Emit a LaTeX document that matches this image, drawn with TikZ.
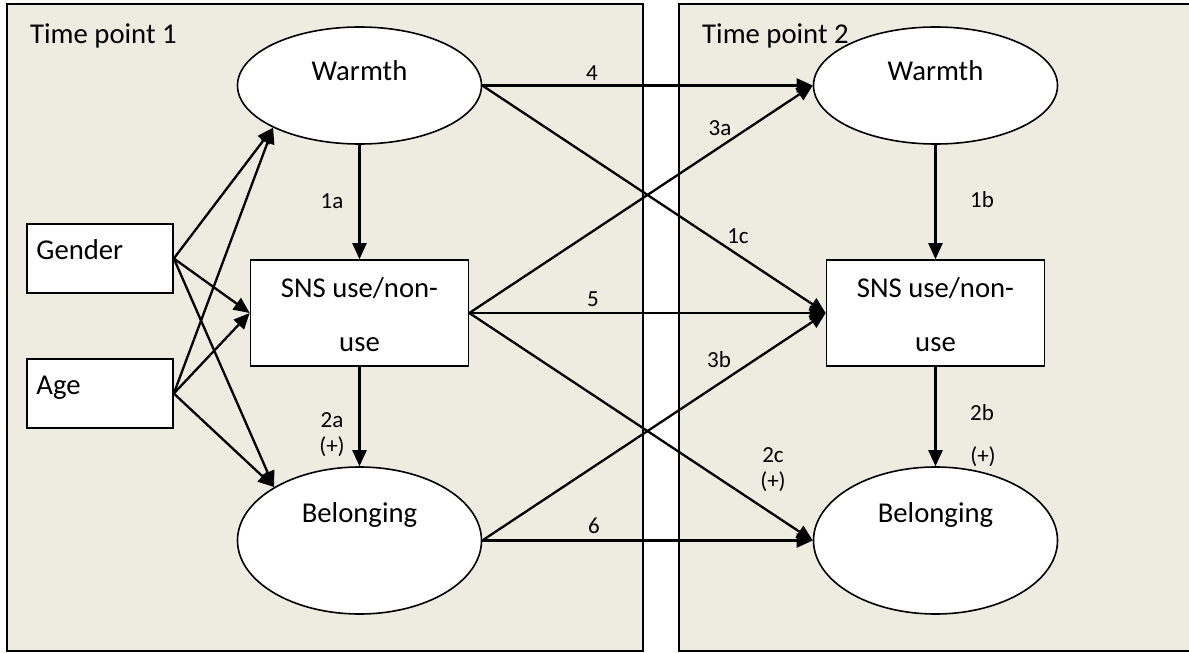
\documentclass[tikz,border=0pt]{standalone}
\usepackage{fontspec}
\setmainfont{Carlito}
\usetikzlibrary{arrows.meta,shapes.geometric}
\definecolor{panelfill}{HTML}{EEECE1}
\begin{document}
\begin{tikzpicture}[x=1pt,y=-1pt,
  panel/.style={draw=black, fill=panelfill, line width=1.6pt},
  latent/.style={ellipse, draw=black, fill=white, line width=1.6pt, inner sep=0pt,
    minimum width=244pt},
  obsbox/.style={rectangle, draw=black, fill=white, line width=1.6pt, inner sep=0pt},
  maintext/.style={font=\fontsize{28.7}{34}\selectfont, inner sep=0pt, anchor=base},
  lbl/.style={font=\fontsize{23}{27}\selectfont, inner sep=0pt, anchor=base},
  causal/.style={line width=2.3pt, -{Triangle[length=16pt,width=14pt]}}
]
\useasboundingbox (0,0) rectangle (1189,653);

% the two measurement occasions
\draw[panel] (7,4) rectangle (643,651);
\draw[panel] (679,4) rectangle (1194,651);
\node[maintext, anchor=base west] (tp1) at (30,43) {Time point 1};
\node[maintext, anchor=base west] (tp2) at (702,43) {Time point 2};

% covariates
\node[obsbox, minimum width=146pt, minimum height=69pt] (gen) at (100,258.5) {};
\node[obsbox, minimum width=146pt, minimum height=69pt] (age) at (100,393.5) {};
\node[maintext, anchor=base west] (gent) at ([xshift=10pt,yshift=-36pt]gen.north west) {Gender};
\node[maintext, anchor=base west] (aget) at ([xshift=10pt,yshift=-36pt]age.north west) {Age};

% time point 1 constructs
\node[latent, minimum height=117pt] (w1) at (359.5,85.5) {};
\node[obsbox, minimum width=218pt, minimum height=106pt] (s1) at (359.5,313) {};
\node[latent, minimum height=147pt] (b1) at (359.5,540.5) {};
\node[maintext] (w1t) at ([yshift=-54pt]w1.north) {Warmth};
\node[maintext] (s1ta) at ([yshift=-38pt]s1.north) {SNS use/non-};
\node[maintext] (s1tb) at ([yshift=-92pt]s1.north) {use};
\node[maintext] (b1t) at ([yshift=-56pt]b1.north) {Belonging};

% time point 2 constructs
\node[latent, minimum height=117pt] (w2) at (935.5,85.5) {};
\node[obsbox, minimum width=218pt, minimum height=106pt] (s2) at (935.5,313) {};
\node[latent, minimum height=147pt] (b2) at (935.5,540.5) {};
\node[maintext] (w2t) at ([yshift=-54pt]w2.north) {Warmth};
\node[maintext] (s2ta) at ([yshift=-38pt]s2.north) {SNS use/non-};
\node[maintext] (s2tb) at ([yshift=-92pt]s2.north) {use};
\node[maintext] (b2t) at ([yshift=-56pt]b2.north) {Belonging};

% covariate paths
\draw[causal] (gen.east) -- (w1.206);
\draw[causal] (gen.east) -- (s1.west);
\draw[causal] (gen.east) -- (b1.148);
\draw[causal] (age.east) -- (w1.206);
\draw[causal] (age.east) -- (s1.west);
\draw[causal] (age.east) -- (b1.148);

% within-time paths
\draw[causal] (w1.south) -- (s1.north);
\draw[causal] (s1.south) -- (b1.north);
\draw[causal] (w2.south) -- (s2.north);
\draw[causal] (s2.south) -- (b2.north);

% cross-lagged paths
\draw[causal] (w1.east) -- (w2.west);
\draw[causal] (w1.east) -- (s2.west);
\draw[causal] (s1.east) -- (w2.west);
\draw[causal] (s1.east) -- (s2.west);
\draw[causal] (s1.east) -- (b2.west);
\draw[causal] (b1.east) -- (s2.west);
\draw[causal] (b1.east) -- (b2.west);

% path labels
\node[lbl] (l1a) at (332,208) {1a};
\node[lbl] (l2a) at (332,427) {2a};
\node[lbl] (l2ap) at (332,453) {(+)};
\node[lbl] (l1b) at (982,207) {1b};
\node[lbl] (l2b) at (982,420) {2b};
\node[lbl] (l2bp) at (983,463) {(+)};
\node[lbl] (l4) at (592,80) {4};
\node[lbl] (l1c) at (738,243) {1c};
\node[lbl] (l3a) at (720,135) {3a};
\node[lbl] (l5) at (593,306) {5};
\node[lbl] (l3b) at (719,367) {3b};
\node[lbl] (l2c) at (773,462) {2c};
\node[lbl] (l2cp) at (773,488) {(+)};
\node[lbl] (l6) at (594,533) {6};
\end{tikzpicture}
\end{document}
